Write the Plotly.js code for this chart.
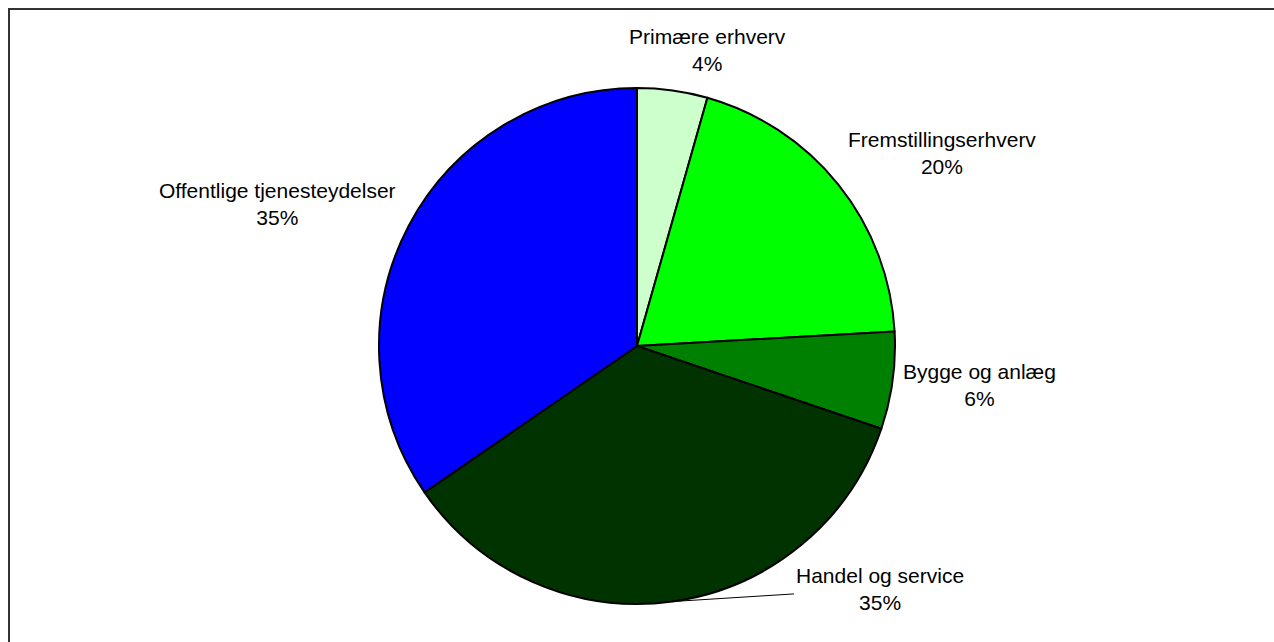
<!DOCTYPE html>
<html>
<head>
<meta charset="utf-8">
<script src="https://cdn.plot.ly/plotly-3.0.1.min.js"></script>
<style>
  html, body { margin: 0; padding: 0; background: #ffffff; }
  #chart { width: 1274px; height: 642px; }
</style>
</head>
<body>
<div id="chart"></div>
<script>
// ---- data ----
const categories = ['Primære erhverv', 'Fremstillingserhverv', 'Bygge og anlæg', 'Handel og service', 'Offentlige tjenesteydelser'];
const shares = [4.4, 19.7, 6.1, 35.2, 34.6];
const sliceColors = ['#CCFFCC', '#00FF00', '#008000', '#003300', '#0000FF'];

// ---- layout geometry ----
const W = 1274, H = 642;
const cx = 637, cy = 346, R = 258;
// label offsets (px) from slice mid-edge point; Handel uses a leader line
const labelShift = [[35, -40], [104, -32], [87, 4], [207, -13], [-131, -22]];
const leader = [false, false, false, true, false];

const total = shares.reduce((a, b) => a + b, 0);
let cum = 0;
const annotations = [];
shares.forEach((v, i) => {
  const mid = (cum + v / 2) / total * 2 * Math.PI;
  cum += v;
  const px = cx + R * Math.sin(mid);
  const py = cy - R * Math.cos(mid);
  const txt = categories[i] + '<br>' + Math.round(v / total * 100) + '%';
  const a = {
    x: px / W, y: 1 - py / H, xref: 'paper', yref: 'paper',
    text: txt, xanchor: 'center', yanchor: 'middle', align: 'center',
    font: { family: 'Liberation Sans, Arial, sans-serif', size: 21, color: '#000000' }
  };
  if (leader[i]) {
    a.showarrow = true; a.arrowhead = 0; a.arrowwidth = 1; a.arrowcolor = '#000000';
    a.ax = labelShift[i][0]; a.ay = labelShift[i][1]; a.standoff = 0; a.startstandoff = 0;
  } else {
    a.showarrow = false; a.xshift = labelShift[i][0]; a.yshift = -labelShift[i][1];
  }
  annotations.push(a);
});

const trace = {
  type: 'pie',
  labels: categories,
  values: shares,
  sort: false,
  direction: 'clockwise',
  rotation: 0,
  textinfo: 'none',
  hoverinfo: 'label+percent',
  marker: { colors: sliceColors, line: { color: '#000000', width: 2 } },
  domain: { x: [(cx - R) / W, (cx + R) / W], y: [(H - cy - R) / H, (H - cy + R) / H] },
  showlegend: false
};

const layout = {
  width: W, height: H,
  margin: { l: 0, r: 0, t: 0, b: 0 },
  paper_bgcolor: '#ffffff',
  showlegend: false,
  annotations: annotations,
  shapes: [{
    type: 'rect', xref: 'paper', yref: 'paper',
    x0: 9 / W, x1: 1.02, y0: -0.02, y1: 1 - 9 / H,
    line: { color: '#333333', width: 2 }, fillcolor: 'rgba(0,0,0,0)'
  }]
};

Plotly.newPlot('chart', [trace], layout, { displayModeBar: false, staticPlot: true });
</script>
</body>
</html>
